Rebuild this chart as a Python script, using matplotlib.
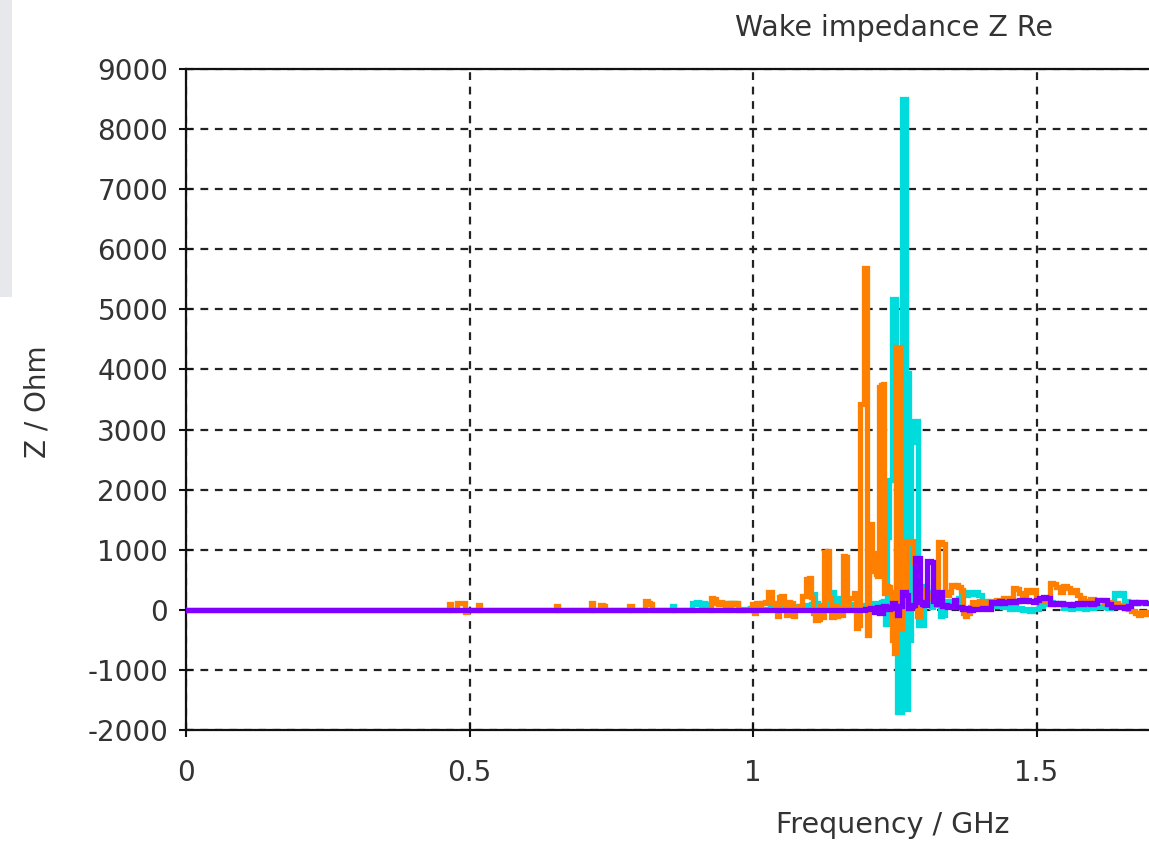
import matplotlib
matplotlib.use("Agg")
import matplotlib.pyplot as plt
from matplotlib.patches import Rectangle

plt.rcParams["axes.unicode_minus"] = False

# (frequency GHz, Re Z Ohm)
orange_pts = [
    (0.0, 0), (0.462, 0), (0.466, 90), (0.470, 0), (0.486, 120), (0.490, 110),
    (0.494, -40), (0.498, 0), (0.513, 0), (0.516, 80), (0.520, 0), (0.650, 0),
    (0.654, 60), (0.658, 0), (0.712, 0), (0.716, 110), (0.720, 0), (0.729, 0),
    (0.733, 80), (0.737, 70), (0.741, 0), (0.780, 0), (0.784, 60), (0.788, 0),
    (0.808, 0), (0.812, 150), (0.816, 110), (0.820, 100), (0.824, 0), (0.924, 0),
    (0.928, 190), (0.932, 180), (0.936, 120), (0.940, 90), (0.944, 130), (0.948, 100),
    (0.952, 60), (0.956, 110), (0.960, 0), (0.964, 120), (0.968, 100), (0.972, 120),
    (0.976, 0), (0.990, 0), (0.996, 20), (1.000, 90), (1.004, -60), (1.008, 110),
    (1.012, 100), (1.016, 120), (1.020, 110), (1.024, 130), (1.028, 300), (1.032, 300),
    (1.036, 110), (1.040, 60), (1.044, -100), (1.048, 220), (1.052, 230), (1.056, 110),
    (1.060, -90), (1.064, 130), (1.068, 120), (1.072, -110), (1.076, 40), (1.080, 30),
    (1.084, 60), (1.088, 230), (1.092, 230), (1.096, 520), (1.100, 530), (1.104, 220),
    (1.108, -60), (1.112, -170), (1.116, -150), (1.120, 60), (1.124, -120), (1.128, 970),
    (1.132, 980), (1.136, 200), (1.140, -120), (1.144, 60), (1.148, -100), (1.152, 30),
    (1.156, -80), (1.160, 900), (1.164, 880), (1.168, 80), (1.172, 190), (1.176, 190),
    (1.180, 280), (1.184, -300), (1.188, -250), (1.191, 3430), (1.194, 3430), (1.197, 5690),
    (1.200, 5690), (1.203, -420), (1.206, 1420), (1.209, 1420), (1.212, 940), (1.215, 640),
    (1.218, 600), (1.221, 560), (1.224, 3700), (1.227, 3740), (1.230, 3760), (1.233, 280),
    (1.236, 400), (1.240, 380), (1.244, 300), (1.248, -500), (1.251, -720), (1.254, 4380),
    (1.257, 4380), (1.260, -300), (1.264, 250), (1.268, 200), (1.272, 1130), (1.276, 1150),
    (1.280, 1150), (1.284, 800), (1.288, 300), (1.292, -100), (1.296, 80), (1.300, 350),
    (1.304, 300), (1.308, 250), (1.312, 200), (1.316, 250), (1.320, 200), (1.324, 300),
    (1.328, 1130), (1.332, 1130), (1.336, 1100), (1.340, 300), (1.344, 250), (1.348, 300),
    (1.352, 420), (1.356, 400), (1.360, 420), (1.364, 380), (1.368, 330), (1.372, -50),
    (1.376, -100), (1.380, -60), (1.384, 50), (1.390, 130), (1.396, 100), (1.402, 150),
    (1.408, 120), (1.414, 90), (1.420, 140), (1.426, 150), (1.432, 170), (1.438, 160),
    (1.444, 190), (1.450, 170), (1.456, 200), (1.460, 360), (1.466, 350), (1.472, 280),
    (1.478, 250), (1.484, 330), (1.490, 300), (1.496, 330), (1.502, 170), (1.508, 150),
    (1.514, 180), (1.520, 140), (1.526, 440), (1.532, 430), (1.538, 380), (1.544, 300),
    (1.550, 390), (1.556, 370), (1.562, 300), (1.568, 330), (1.574, 250), (1.580, 200),
    (1.586, 120), (1.592, 150), (1.598, 180), (1.604, 120), (1.610, 170), (1.616, 160),
    (1.622, 110), (1.628, 130), (1.634, 100), (1.640, 110), (1.646, 60), (1.652, 80),
    (1.658, 30), (1.664, 20), (1.670, -20), (1.676, -60), (1.682, -80), (1.688, -40),
    (1.694, -70), (1.700, -40), (1.710, 0),
]

cyan_pts = [
    (0.0, 0), (0.855, 0), (0.859, 60), (0.863, 0), (0.890, 0), (0.894, 120),
    (0.898, 90), (0.902, 130), (0.906, 120), (0.910, 80), (0.914, 110), (0.918, 100),
    (0.922, 40), (0.926, 0), (0.952, 0), (0.956, 110), (0.960, 120), (0.964, 100),
    (0.968, 120), (0.972, 90), (0.976, 0), (0.990, 10), (1.000, 30), (1.020, 20),
    (1.040, 40), (1.060, 30), (1.080, 60), (1.092, 50), (1.100, 80), (1.104, 100),
    (1.108, 260), (1.112, 120), (1.116, 60), (1.120, 50), (1.126, 80), (1.132, 100),
    (1.136, 300), (1.140, 300), (1.144, 80), (1.148, 200), (1.152, 40), (1.160, 60),
    (1.170, 90), (1.180, 50), (1.190, 60), (1.200, 80), (1.210, 90), (1.216, 120),
    (1.222, 100), (1.228, 130), (1.232, 150), (1.235, -230), (1.238, 1210), (1.241, 2160),
    (1.244, 2160), (1.247, 5170), (1.250, 5170), (1.253, 200), (1.256, -1700), (1.259, -1700),
    (1.262, -1700), (1.265, 8500), (1.268, 8500), (1.271, -1650), (1.274, 3940), (1.277, -500),
    (1.280, 2800), (1.283, 3140), (1.286, 3140), (1.289, 3140), (1.292, -250), (1.296, 400),
    (1.300, -250), (1.304, 380), (1.308, 300), (1.312, 100), (1.316, 50), (1.320, 80),
    (1.324, 150), (1.328, 100), (1.332, -110), (1.336, -80), (1.340, 150), (1.346, 100),
    (1.352, 150), (1.358, 130), (1.364, 200), (1.370, 300), (1.376, 250), (1.382, 300),
    (1.388, 260), (1.394, 300), (1.400, 250), (1.406, 120), (1.412, 150), (1.418, 100),
    (1.424, 130), (1.430, 60), (1.436, 70), (1.442, 40), (1.448, 60), (1.454, 20),
    (1.460, 40), (1.466, 10), (1.472, 30), (1.478, 0), (1.484, 20), (1.490, -20),
    (1.496, 10), (1.502, 20), (1.508, 60), (1.514, 110), (1.520, 90), (1.526, 130),
    (1.532, 100), (1.538, 110), (1.544, 90), (1.550, 30), (1.556, 40), (1.562, 20),
    (1.568, 50), (1.574, 30), (1.580, 40), (1.586, 20), (1.592, 50), (1.598, 30),
    (1.604, 40), (1.610, 60), (1.616, 40), (1.622, 60), (1.628, 30), (1.634, 60),
    (1.640, 280), (1.646, 250), (1.652, 280), (1.658, 150), (1.664, 130), (1.670, 120),
    (1.676, 130), (1.682, 110), (1.688, 120), (1.694, 110), (1.700, 110), (1.710, 110),
]

purple_pts = [
    (0.0, 0), (1.196, 0), (1.200, 10), (1.212, 30), (1.216, -40), (1.220, 40), (1.226, -50),
    (1.232, 60), (1.238, 20), (1.244, 40), (1.248, 120), (1.252, 30), (1.256, -80),
    (1.260, 60), (1.264, 300), (1.268, 300), (1.272, 250), (1.276, 30), (1.280, 60),
    (1.284, 80), (1.288, 870), (1.292, 860), (1.296, 130), (1.300, 90), (1.304, 80),
    (1.308, 820), (1.312, 820), (1.316, 800), (1.320, 150), (1.324, 100), (1.328, 300),
    (1.332, 300), (1.336, 60), (1.340, 80), (1.346, 40), (1.352, 60), (1.356, 160),
    (1.360, 40), (1.366, 50), (1.372, 20), (1.378, 30), (1.384, 0), (1.392, 20),
    (1.400, 10), (1.408, 30), (1.416, 20), (1.424, 130), (1.430, 110), (1.436, 140),
    (1.442, 120), (1.448, 130), (1.454, 150), (1.460, 130), (1.466, 150), (1.472, 170),
    (1.478, 150), (1.484, 160), (1.490, 150), (1.496, 130), (1.502, 160), (1.508, 200),
    (1.514, 220), (1.520, 200), (1.526, 100), (1.532, 110), (1.538, 90), (1.544, 110),
    (1.550, 90), (1.556, 100), (1.562, 80), (1.568, 100), (1.574, 110), (1.580, 90),
    (1.586, 110), (1.592, 120), (1.598, 100), (1.604, 120), (1.610, 170), (1.616, 170),
    (1.622, 160), (1.628, 100), (1.634, 40), (1.640, 50), (1.646, 40), (1.652, 50),
    (1.658, 30), (1.664, 60), (1.670, 130), (1.676, 120), (1.682, 130), (1.688, 130),
    (1.694, 110), (1.700, 110), (1.710, 110),
]

x_ticks = [0, 0.5, 1, 1.5]
x_tick_labels = ["0", "0.5", "1", "1.5"]
y_ticks = list(range(-2000, 9001, 1000))

W, H = 1149, 842
fig = plt.figure(figsize=(W / 100, H / 100), dpi=100)

# grey strip of another window in the top-left corner
fig.patches.append(Rectangle((0, 1 - 297 / H), 12 / W, 297 / H, transform=fig.transFigure,
                             facecolor="#e6e8ec", edgecolor="none"))

ax = fig.add_axes([186 / W, 1 - 730 / H, 1 - 186 / W, (730 - 69) / H])

series = [(cyan_pts, "#00dcdc"), (orange_pts, "#ff8000"), (purple_pts, "#8000ff")]
for i, (pts, col) in enumerate(series):
    f, z = zip(*pts)
    ax.plot(f, z, color=col, lw=3.8, drawstyle="steps-mid", zorder=3 + i,
            solid_joinstyle="miter")

ax.set_xlim(0, (W - 186) / 567)
ax.set_ylim(-2000, 9000)
ax.set_xticks(x_ticks)
ax.set_xticklabels(x_tick_labels)
ax.set_yticks(y_ticks)

ax.grid(True, color="#222222", lw=1.6, linestyle=(0, (3.5, 3)))
ax.set_axisbelow(True)

for side in ["left", "bottom", "top"]:
    ax.spines[side].set_linewidth(1.6)
    ax.spines[side].set_color("#111111")
ax.spines["right"].set_visible(False)

ax.tick_params(direction="inout", length=9.5, width=1.5, color="#111111",
               labelsize=20, labelcolor="#333333")
ax.tick_params(axis="x", pad=16)
ax.tick_params(axis="y", pad=8)

fig.text(894 / W, 1 - 28 / H, "Wake impedance Z Re", fontsize=20.5, color="#333333",
         ha="center", va="center")
fig.text(893 / W, 1 - 825 / H, "Frequency / GHz", fontsize=20.5, color="#333333",
         ha="center", va="center")
fig.text(37 / W, 1 - 402 / H, "Z / Ohm", fontsize=20, color="#333333",
         ha="center", va="center", rotation=90)

fig.savefig("out.png", dpi=100)
